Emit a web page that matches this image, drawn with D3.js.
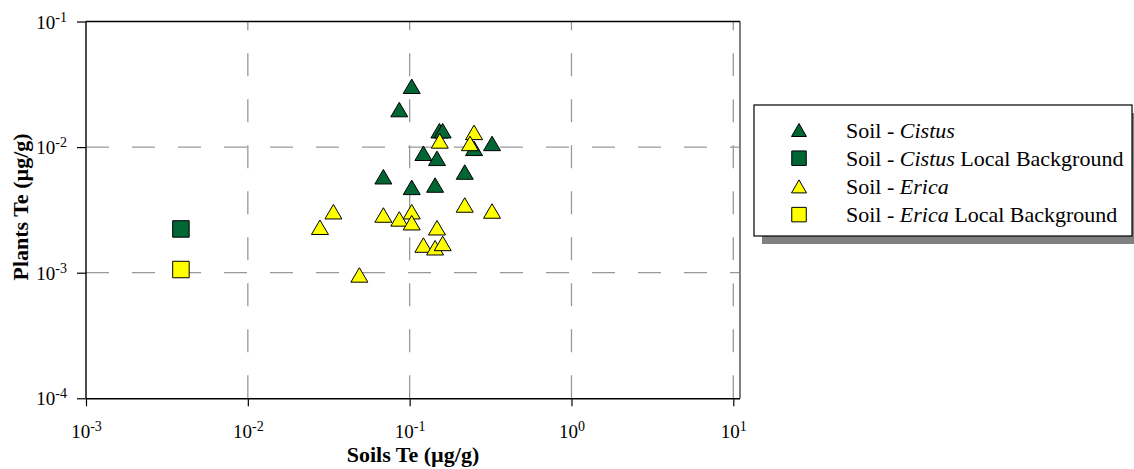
<!DOCTYPE html>
<html>
<head>
<meta charset="utf-8">
<script src="https://cdn.jsdelivr.net/npm/d3@7"></script>
<style>
  html, body { margin: 0; padding: 0; background: #fff; }
  svg, svg text { font-family: "Liberation Serif", "Times New Roman", serif; }
</style>
</head>
<body>
<svg id="chart" width="1134" height="469"></svg>
<script>
// Te concentrations (µg/g): soil value paired with plant value
const cistusSoil  = [0.103, 0.0863, 0.1527, 0.160, 0.323, 0.250, 0.1216, 0.1476, 0.219, 0.0688, 0.103, 0.1436];
const cistusPlant = [0.0305, 0.0199, 0.0135, 0.0135, 0.0107, 0.00978, 0.00893, 0.00814, 0.00633, 0.00581, 0.00478, 0.00499];

const ericaSoil  = [0.250, 0.1535, 0.236, 0.219, 0.323, 0.0338, 0.0279, 0.0688, 0.0863, 0.103, 0.103, 0.1476, 0.1216, 0.1436, 0.160, 0.0489];
const ericaPlant = [0.0131, 0.0112, 0.0107, 0.00346, 0.00310, 0.00306, 0.00230, 0.00288, 0.00268, 0.00306, 0.00250, 0.00228, 0.00166, 0.00158, 0.00171, 0.00096];

const cistusBgSoil  = [0.00386];
const cistusBgPlant = [0.00223];
const ericaBgSoil  = [0.00386];
const ericaBgPlant = [0.00106];

const xTickExps = [-3, -2, -1, 0, 1];
const yTickExps = [-4, -3, -2, -1];

const xTitle = "Soils Te (µg/g)";
const yTitle = "Plants Te (µg/g)";

const legendItems = [
  { shape: "triangle", fill: "#006633", pre: "Soil - ", ital: "Cistus", post: "" },
  { shape: "square",   fill: "#006633", pre: "Soil - ", ital: "Cistus", post: " Local Background" },
  { shape: "triangle", fill: "#ffff00", pre: "Soil - ", ital: "Erica",  post: "" },
  { shape: "square",   fill: "#ffff00", pre: "Soil - ", ital: "Erica",  post: " Local Background" }
];

const GREEN = "#006633", YELLOW = "#ffff00";
const SERIF = '"Liberation Serif", "Times New Roman", serif';

const svg = d3.select("#chart");

// plot frame
const P = { left: 86, right: 740, top: 21.5, bottom: 398.3 };
const xDecade = (733.3 - P.left) / 4;

const x = d3.scaleLog().domain([1e-3, 1e1]).range([P.left, P.left + 4 * xDecade]);
const y = d3.scaleLog().domain([1e-4, 1e-1]).range([P.bottom, P.top]);

// dashed grid lines
const grid = svg.append("g").attr("stroke", "#999").attr("stroke-width", 1.3)
  .attr("stroke-dasharray", "23,23").attr("fill", "none");
grid.selectAll("line.v").data(xTickExps.filter(e => e > -3)).join("line")
  .attr("class", "v")
  .attr("x1", e => x(Math.pow(10, e))).attr("x2", e => x(Math.pow(10, e)))
  .attr("y1", P.bottom).attr("y2", P.top);
grid.selectAll("line.h").data([-3, -2]).join("line")
  .attr("class", "h")
  .attr("x1", P.left).attr("x2", P.right)
  .attr("y1", e => y(Math.pow(10, e))).attr("y2", e => y(Math.pow(10, e)));

// frame: gray right edge, black top / bottom / left
svg.append("line").attr("x1", P.right).attr("x2", P.right).attr("y1", P.top).attr("y2", P.bottom)
  .attr("stroke", "#808080").attr("stroke-width", 2);
svg.append("line").attr("x1", P.left).attr("x2", P.right).attr("y1", P.top).attr("y2", P.top)
  .attr("stroke", "#000").attr("stroke-width", 1.4);

// axes
const supLabel = (sel, exp) => {
  sel.text(null);
  sel.append("tspan").text("10");
  sel.append("tspan").attr("dy", "-0.5em").style("font-size", "14px").text(exp);
};

const xAxis = d3.axisBottom(x).tickValues(xTickExps.map(e => Math.pow(10, e)))
  .tickSize(8).tickPadding(10).tickFormat("");
const gx = svg.append("g").attr("transform", `translate(0,${P.bottom})`).call(xAxis)
  .attr("font-family", null).attr("font-size", null);
gx.select(".domain").attr("d", `M${P.left},0.5H${P.right}`).attr("stroke-width", 1.4);
gx.selectAll(".tick line").attr("stroke-width", 1.2);
gx.selectAll(".tick").append("text")
  .attr("y", 40).attr("text-anchor", "middle")
  .attr("fill", "#000").style("font-size", "19px").style("font-family", SERIF)
  .each(function(d) { supLabel(d3.select(this), Math.round(Math.log10(d))); });

const yAxis = d3.axisLeft(y).tickValues(yTickExps.map(e => Math.pow(10, e)))
  .tickSize(9).tickFormat("");
const gy = svg.append("g").attr("transform", `translate(${P.left},0)`).call(yAxis)
  .attr("font-family", null).attr("font-size", null);
gy.select(".domain").attr("d", `M0,${P.top}V${P.bottom}`).attr("stroke-width", 1.4);
gy.selectAll(".tick line").attr("stroke-width", 1.2);
gy.selectAll(".tick").append("text")
  .attr("x", -19).attr("y", 6.5).attr("text-anchor", "end")
  .attr("fill", "#000").style("font-size", "19px").style("font-family", SERIF)
  .each(function(d) { supLabel(d3.select(this), Math.round(Math.log10(d))); });

// axis titles
svg.append("text").attr("x", (P.left + P.right) / 2).attr("y", 462)
  .attr("text-anchor", "middle").style("font-weight", "bold").style("font-size", "22px")
  .style("font-family", SERIF)
  .text(xTitle);
svg.append("text").attr("transform", "translate(28,207) rotate(-90)")
  .attr("text-anchor", "middle").style("font-weight", "bold").style("font-size", "22px")
  .style("font-family", SERIF)
  .text(yTitle);

// marker shapes, centred on their bounding box
const triPath = (w, h) => `M0,${-h / 2}L${w / 2},${h / 2}L${-w / 2},${h / 2}Z`;
const sqPath = s => `M${-s / 2},${-s / 2}h${s}v${s}h${-s}Z`;

function plotSeries(xs, ys, path, fill) {
  svg.append("g").selectAll("path").data(xs.map((v, i) => [v, ys[i]])).join("path")
    .attr("d", path)
    .attr("transform", d => `translate(${x(d[0])},${y(d[1])})`)
    .attr("fill", fill).attr("stroke", "#000").attr("stroke-width", 1);
}

plotSeries(cistusSoil, cistusPlant, triPath(17, 14.5), GREEN);
plotSeries(cistusBgSoil, cistusBgPlant, sqPath(16.5), GREEN);
plotSeries(ericaSoil, ericaPlant, triPath(17, 14.5), YELLOW);
plotSeries(ericaBgSoil, ericaBgPlant, sqPath(16.5), YELLOW);

// legend with drop shadow
const lg = { x: 754, y: 105, w: 378, h: 131 };
svg.append("rect").attr("x", lg.x + 8).attr("y", lg.y + 8).attr("width", lg.w).attr("height", lg.h)
  .attr("fill", "#808080");
svg.append("rect").attr("x", lg.x).attr("y", lg.y).attr("width", lg.w).attr("height", lg.h)
  .attr("fill", "#fff").attr("stroke", "#000").attr("stroke-width", 1.2);

const rows = svg.append("g").selectAll("g").data(legendItems).join("g")
  .attr("transform", (d, i) => `translate(0,${lg.y + 25 + i * 28.2})`);
rows.append("path")
  .attr("d", d => d.shape === "triangle" ? triPath(15, 13) : sqPath(14.5))
  .attr("transform", "translate(799,0)")
  .attr("fill", d => d.fill).attr("stroke", "#000").attr("stroke-width", 1);
const lt = rows.append("text").attr("x", 846).attr("y", 7.5)
  .style("font-size", "22px").style("font-family", SERIF).attr("fill", "#000");
lt.append("tspan").text(d => d.pre);
lt.append("tspan").style("font-style", "italic").text(d => d.ital);
lt.append("tspan").text(d => d.post);
</script>
</body>
</html>
